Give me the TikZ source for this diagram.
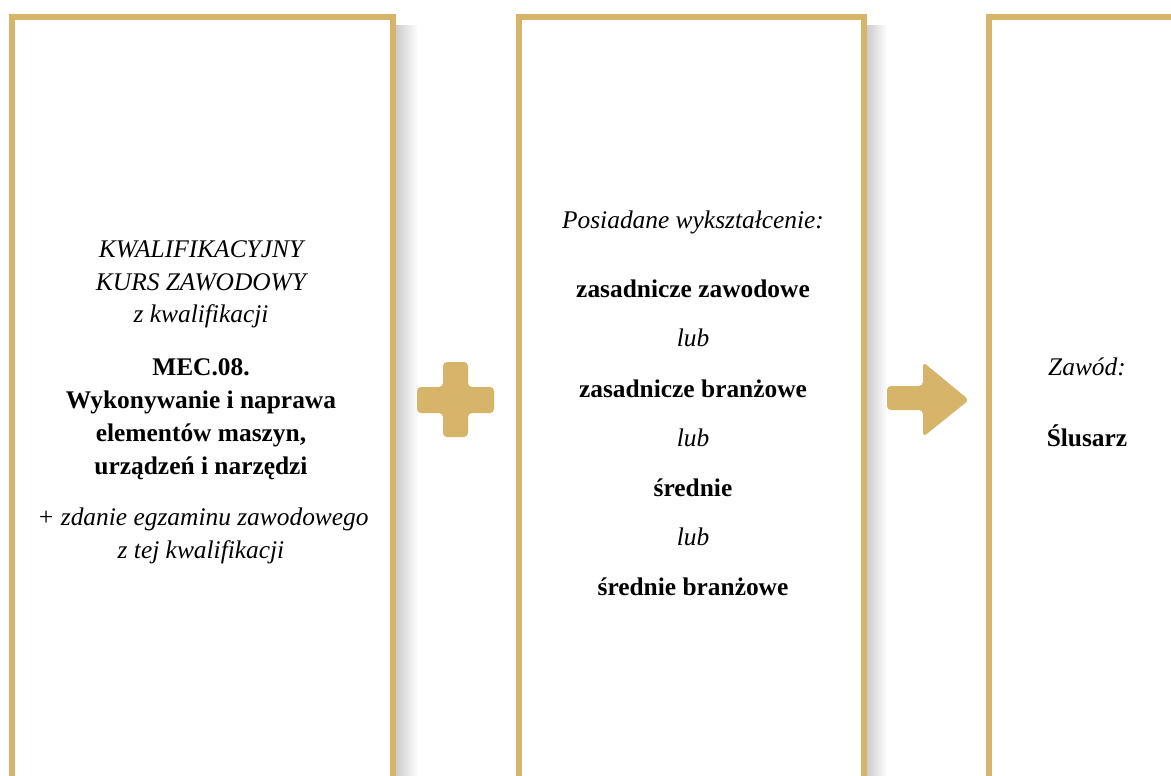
\documentclass[tikz,border=0pt]{standalone}
\usepackage{fontspec}
\setmainfont{Liberation Serif}
\definecolor{gold}{RGB}{214,180,106}
\tikzset{
  frame/.style={draw=gold, line width=6bp, line join=miter},
  shadowbar/.style={left color=black!20, right color=white, draw=none},
  txt/.style={anchor=base, inner sep=0pt, font=\fontsize{25.5}{30}\selectfont, text=black},
  ital/.style={txt, font=\fontsize{25.5}{30}\selectfont\itshape},
  bld/.style={txt, font=\fontsize{25.5}{30}\selectfont\bfseries},
  symb/.style={fill=gold, draw=none, rounded corners=4bp},
}
\begin{document}
\begin{tikzpicture}[x=1bp,y=-1bp]
\useasboundingbox (0,0) rectangle (1171,776);
% shadows
\shade[shadowbar] (396,26) rectangle (418,776);
\shade[shadowbar] (867,26) rectangle (887,776);
% frames
\draw[frame] (12,790) -- (12,17) -- (393,17) -- (393,790);
\draw[frame] (518.5,790) -- (518.5,17) -- (864,17) -- (864,790);
\draw[frame] (1200,17) -- (989,17) -- (989,790);
% plus
\fill[symb] (443,362) -- (468,362) -- (468,387) -- (494,387) -- (494,413) -- (468,413)
  -- (468,437) -- (443,437) -- (443,413) -- (417,413) -- (417,387) -- (443,387) -- cycle;
% arrow
\fill[symb] (887,386) -- (923,386) -- (923,362) -- (969,400) -- (923,437) -- (923,410)
  -- (887,410) -- cycle;
% box 1 text
\node[ital] (a1) at (201,257) {KWALIFIKACYJNY};
\node[ital] (a2) at (201,290) {KURS ZAWODOWY};
\node[ital] (a3) at (201,322) {z kwalifikacji};
\node[bld] (a4) at (201,375) {MEC.08.};
\node[bld] (a5) at (201,408) {Wykonywanie i naprawa};
\node[bld] (a6) at (201,441) {elementów maszyn,};
\node[bld] (a7) at (201,474) {urządzeń i narzędzi};
\node[ital] (a8) at (203,525) {+ zdanie egzaminu zawodowego};
\node[ital] (a9) at (201,558) {z tej kwalifikacji};
% box 2 text
\node[ital] (b0) at (693,228) {Posiadane wykształcenie:};
\node[bld] (b1) at (693,297) {zasadnicze zawodowe};
\node[ital] (b2) at (693,346) {lub};
\node[bld] (b3) at (693,397) {zasadnicze branżowe};
\node[ital] (b4) at (693,446) {lub};
\node[bld] (b5) at (693,496) {średnie};
\node[ital] (b6) at (693,545) {lub};
\node[bld] (b7) at (693,595) {średnie branżowe};
% box 3 text
\node[ital] (c1) at (1087,375) {Zawód:};
\node[bld] (c2) at (1087,446) {Ślusarz};
\end{tikzpicture}
\end{document}
